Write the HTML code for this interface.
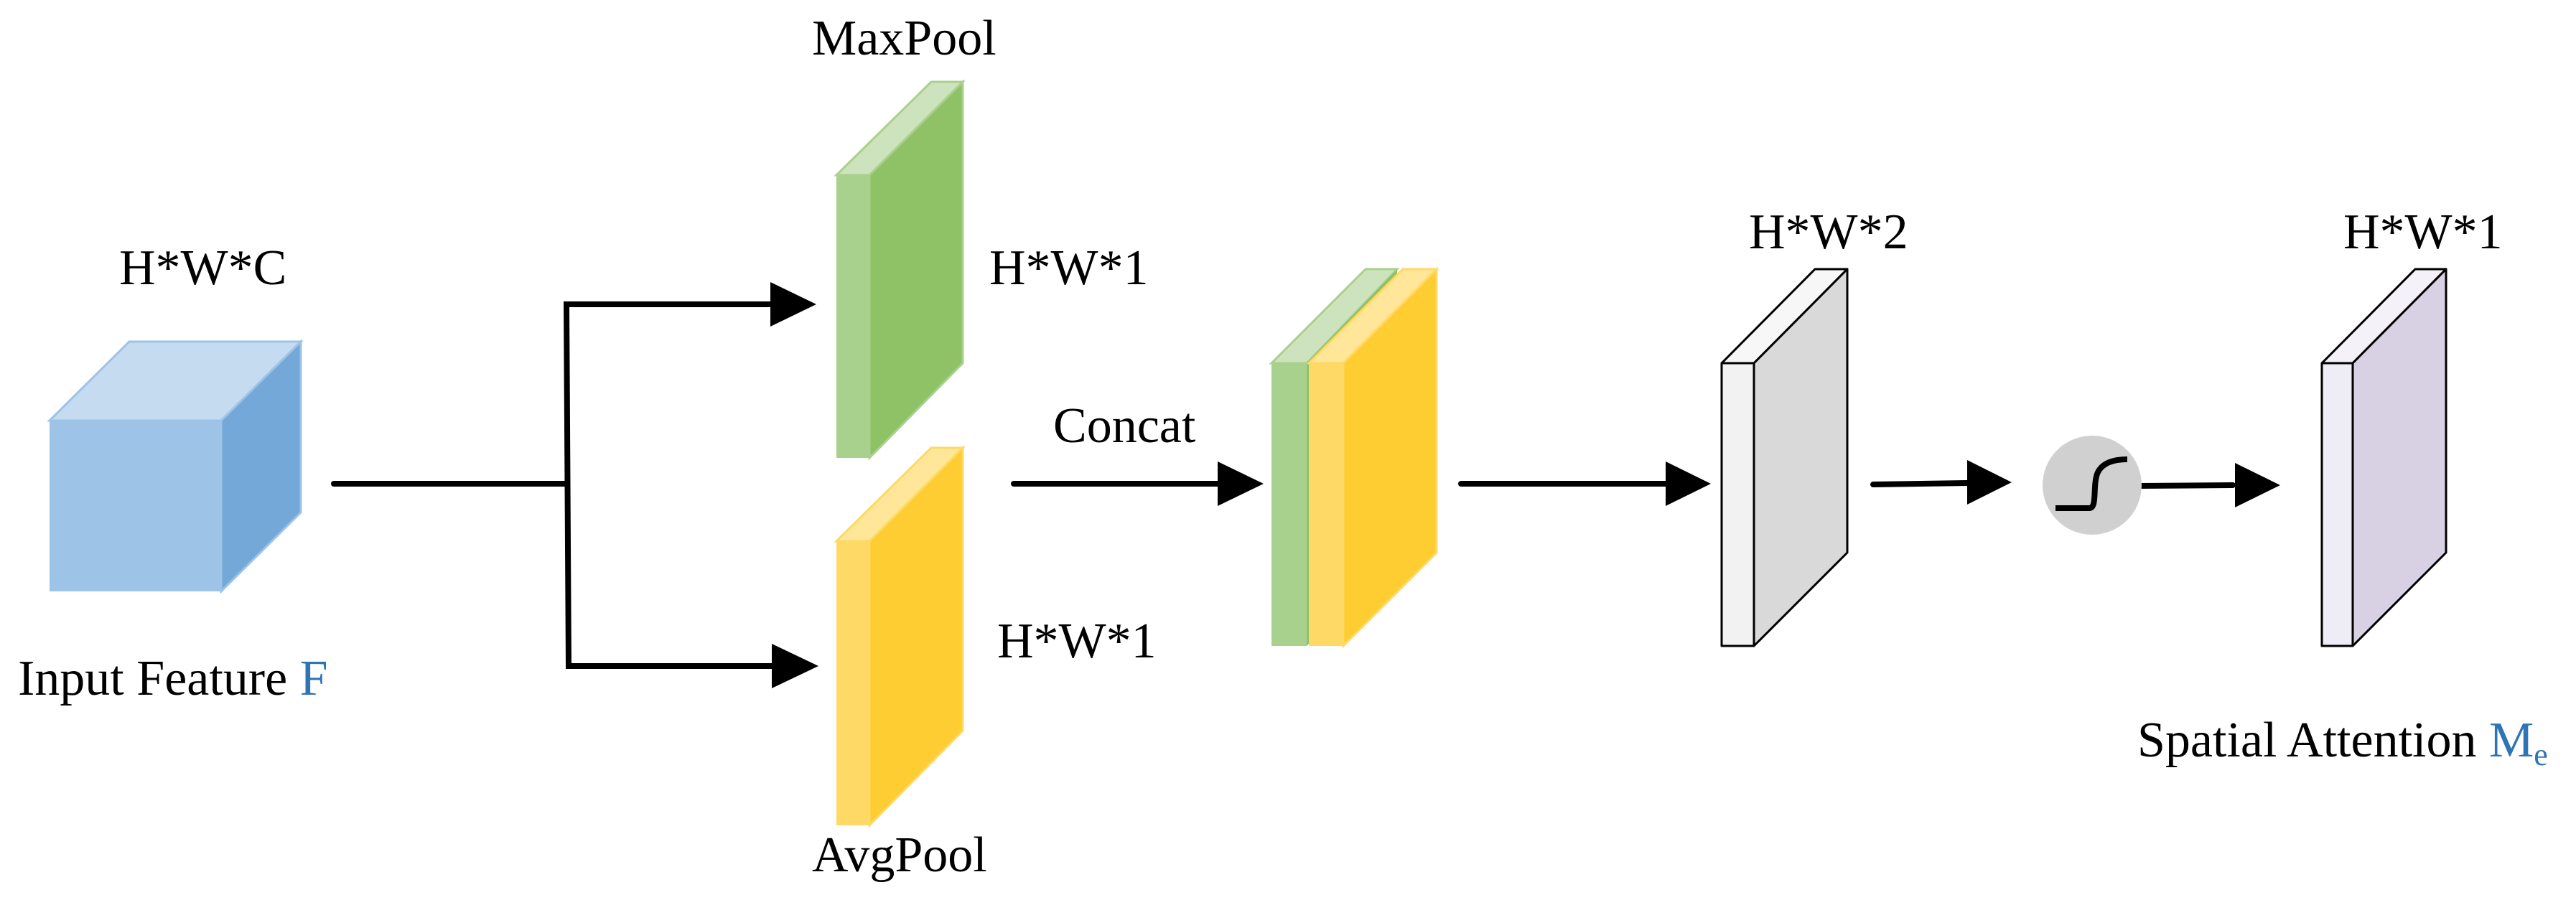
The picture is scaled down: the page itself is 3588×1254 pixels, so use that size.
<!DOCTYPE html>
<html><head><meta charset="utf-8"><style>html,body{margin:0;padding:0;background:#fff}svg{display:block}svg text{font-family:"Liberation Serif","DejaVu Serif",serif;font-size:70px;fill:#000}</style></head>
<body>
<svg width="3588" height="1254" viewBox="0 0 3588 1254" xmlns="http://www.w3.org/2000/svg" font-family="Liberation Serif, DejaVu Serif, serif">
<!-- cube -->
<polygon points="69,586 180,476 419,476 308,586" fill="#c5dbef" stroke="#9dc3e6" stroke-width="3"/>
<polygon points="308,586 419,476 419,714 308,824" fill="#73a8d8" stroke="#9dc3e6" stroke-width="3"/>
<rect x="69" y="586" width="239" height="238" fill="#9dc3e6"/>
<!-- green slab -->
<polygon points="1165,244 1297,114 1341,114 1211,244" fill="#cde3bd" stroke="#a9d18e" stroke-width="3"/>
<polygon points="1211,244 1341,114 1341,506 1211,638" fill="#8fc167" stroke="#a9d18e" stroke-width="3"/>
<rect x="1165" y="244" width="46" height="394" fill="#a9d18e"/>
<!-- yellow slab -->
<polygon points="1165,754 1297,624 1341,624 1211,754" fill="#ffe699" stroke="#ffd966" stroke-width="3"/>
<polygon points="1211,754 1341,624 1341,1018 1211,1150" fill="#fecd32" stroke="#ffd966" stroke-width="3"/>
<rect x="1165" y="754" width="46" height="396" fill="#ffd966"/>
<!-- concat stack -->
<polygon points="1771,506 1902,375 1946,375 1820,506" fill="#cde3bd" stroke="#a9d18e" stroke-width="3"/>
<polygon points="1820,506 1946,375 1946,770 1820,900" fill="#8fc167"/>
<rect x="1771" y="506" width="49" height="394" fill="#a9d18e"/>
<polygon points="1823,506 1954,375 2001,375 1871,506" fill="#ffe699" stroke="#ffd966" stroke-width="3"/>
<polygon points="1871,506 2001,375 2001,770 1871,900" fill="#fecd32" stroke="#ffd966" stroke-width="3"/>
<rect x="1823" y="506" width="48" height="394" fill="#ffd966"/>
<g stroke="#000" stroke-width="3" stroke-linejoin="round">
<polygon points="2398,506 2528,375 2573,375 2443,506" fill="#f7f7f7"/>
<polygon points="2443,506 2573,375 2573,770 2443,900" fill="#d9d9d9"/>
<rect x="2398" y="506" width="45" height="394" fill="#f2f2f2"/>
<polygon points="3234,506 3364,375 3407,375 3277,506" fill="#f4f2f8"/>
<polygon points="3277,506 3407,375 3407,770 3277,900" fill="#d7d1e3"/>
<rect x="3234" y="506" width="43" height="394" fill="#eeedf5"/>
</g>
<g stroke="#000" stroke-width="8" stroke-linecap="round" fill="none">
<line x1="465" y1="674" x2="789" y2="674"/>
<polyline points="1080,424 789,424 792,928 1080,928"/>
<line x1="1412" y1="674" x2="1700" y2="674"/>
<line x1="2035" y1="674" x2="2320" y2="674"/>
<line x1="2609" y1="675" x2="2740" y2="673"/>
<line x1="2981" y1="677" x2="3110" y2="676"/>
</g>
<g fill="#000">
<polygon points="1073,393 1137,424 1073,455"/>
<polygon points="1075,897 1140,928 1075,959"/>
<polygon points="1696,643 1760,674 1696,705"/>
<polygon points="2320,643 2383,674 2320,705"/>
<polygon points="2740,641 2802,672 2740,703"/>
<polygon points="3113,645 3176,676 3113,707"/>
</g>
<circle cx="2914" cy="676" r="69" fill="#d0d0d0"/>
<path d="M2863,708 L2910,708 C2922,708 2914,675 2922,658 C2930,642 2950,640 2963,640" stroke="#000" stroke-width="8" fill="none"/>
<text x="166" y="396">H*W*C</text>
<text x="1131" y="76">MaxPool</text>
<text x="1378" y="396">H*W*1</text>
<text x="1389" y="916">H*W*1</text>
<text x="1131" y="1214">AvgPool</text>
<text x="1467" y="616">Concat</text>
<text x="25" y="968">Input Feature <tspan fill="#2e75b6">F</tspan></text>
<text x="2436" y="346">H*W*2</text>
<text x="3264" y="346">H*W*1</text>
<text x="2977" y="1054">Spatial Attention <tspan fill="#2e75b6">M</tspan><tspan fill="#2e75b6" font-size="44" dy="12">e</tspan></text>
</svg>
</body></html>
